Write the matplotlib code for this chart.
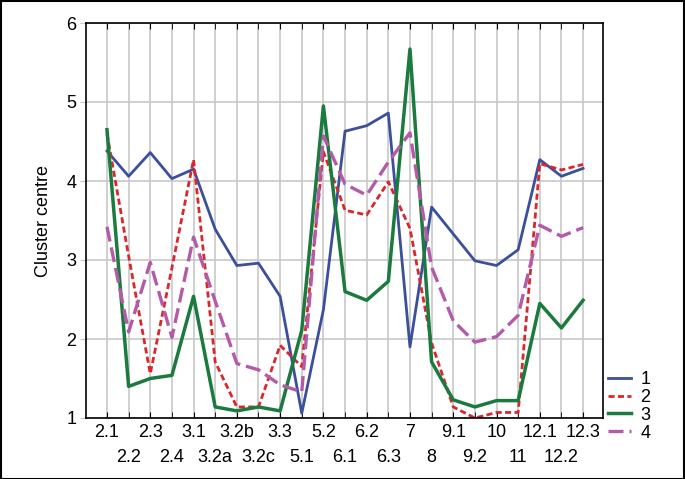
import matplotlib.pyplot as plt
from matplotlib.patches import Rectangle
import numpy as np

plt.rcParams['font.family'] = ['Liberation Sans', 'DejaVu Sans']

# item labels along the x axis
items = ['2.1', '2.2', '2.3', '2.4', '3.1', '3.2a', '3.2b', '3.2c', '3.3', '5.1',
         '5.2', '6.1', '6.2', '6.3', '7', '8', '9.1', '9.2', '10', '11',
         '12.1', '12.2', '12.3']

# cluster centres
c1 = [4.38, 4.06, 4.36, 4.03, 4.15, 3.39, 2.93, 2.96, 2.54, 1.06,
      2.37, 4.63, 4.70, 4.86, 1.90, 3.67, 3.33, 2.99, 2.93, 3.13,
      4.27, 4.06, 4.16]
c2 = [4.60, 3.05, 1.56, 2.90, 4.27, 1.71, 1.14, 1.14, 1.92, 1.65,
      4.37, 3.63, 3.57, 3.99, 3.40, 1.95, 1.14, 1.00, 1.07, 1.07,
      4.22, 4.14, 4.21]
c3 = [4.65, 1.40, 1.50, 1.54, 2.54, 1.14, 1.09, 1.14, 1.09, 2.11,
      4.95, 2.60, 2.49, 2.73, 5.67, 1.71, 1.23, 1.14, 1.22, 1.22,
      2.45, 2.14, 2.49]
c4 = [3.42, 2.09, 2.97, 2.02, 3.29, 2.48, 1.69, 1.61, 1.42, 1.33,
      4.57, 3.96, 3.82, 4.24, 4.61, 2.91, 2.23, 1.96, 2.03, 2.30,
      3.44, 3.30, 3.41]

x = np.arange(len(items))

fig = plt.figure(figsize=(6.85, 4.79), dpi=100)
ax = fig.add_axes([86/685, 1 - 418/479, (603 - 86)/685, (418 - 23)/479])

ax.plot(x, c1, color='#3b4f9b', lw=2, label='1')
ax.plot(x, c2, color='#d8282c', lw=2, dashes=(2.2, 1.2), label='2')
ax.plot(x, c3, color='#1b7a3e', lw=2.5, label='3')
ax.plot(x, c4, color='#b35aa8', lw=2.4, dashes=(4.5, 1.8), label='4')

ax.set_xlim(-0.97, 22.92)
ax.set_ylim(1, 6)
ax.set_yticks([1, 2, 3, 4, 5, 6])
ax.grid(True, color='#c8c8c8', lw=1.2)
ax.set_axisbelow(True)

# labels alternate between two rows
ax.set_xticks(x[::2])
ax.set_xticklabels(items[::2])
ax.set_xticks(x[1::2], minor=True)
ax.set_xticklabels(items[1::2], minor=True)
ax.grid(True, which='minor', axis='x', color='#c8c8c8', lw=1.2)
ax.tick_params(axis='x', which='major', direction='in', length=4, pad=4,
               labelsize=13, top=True, color='black')
ax.tick_params(axis='x', which='minor', direction='in', length=4, pad=22,
               labelsize=13, top=True, color='black')
ax.tick_params(axis='y', direction='out', length=4, color='#c8c8c8',
               labelsize=13, pad=3)

for s in ax.spines.values():
    s.set_color('black')
    s.set_linewidth(1.2)

ax.set_ylabel('Cluster centre', fontsize=13, labelpad=10)

ax.legend(loc='upper left', bbox_to_anchor=(608/685, 1 - 371/479),
          bbox_transform=fig.transFigure, frameon=False, fontsize=13,
          handlelength=1.3, handletextpad=0.5, labelspacing=0.05,
          borderaxespad=0, borderpad=0)

fig.add_artist(Rectangle((0.001, 0.001), 0.997, 0.997, transform=fig.transFigure,
                         fill=False, edgecolor='black', lw=1.5))

fig.savefig('out.png', dpi=100)
